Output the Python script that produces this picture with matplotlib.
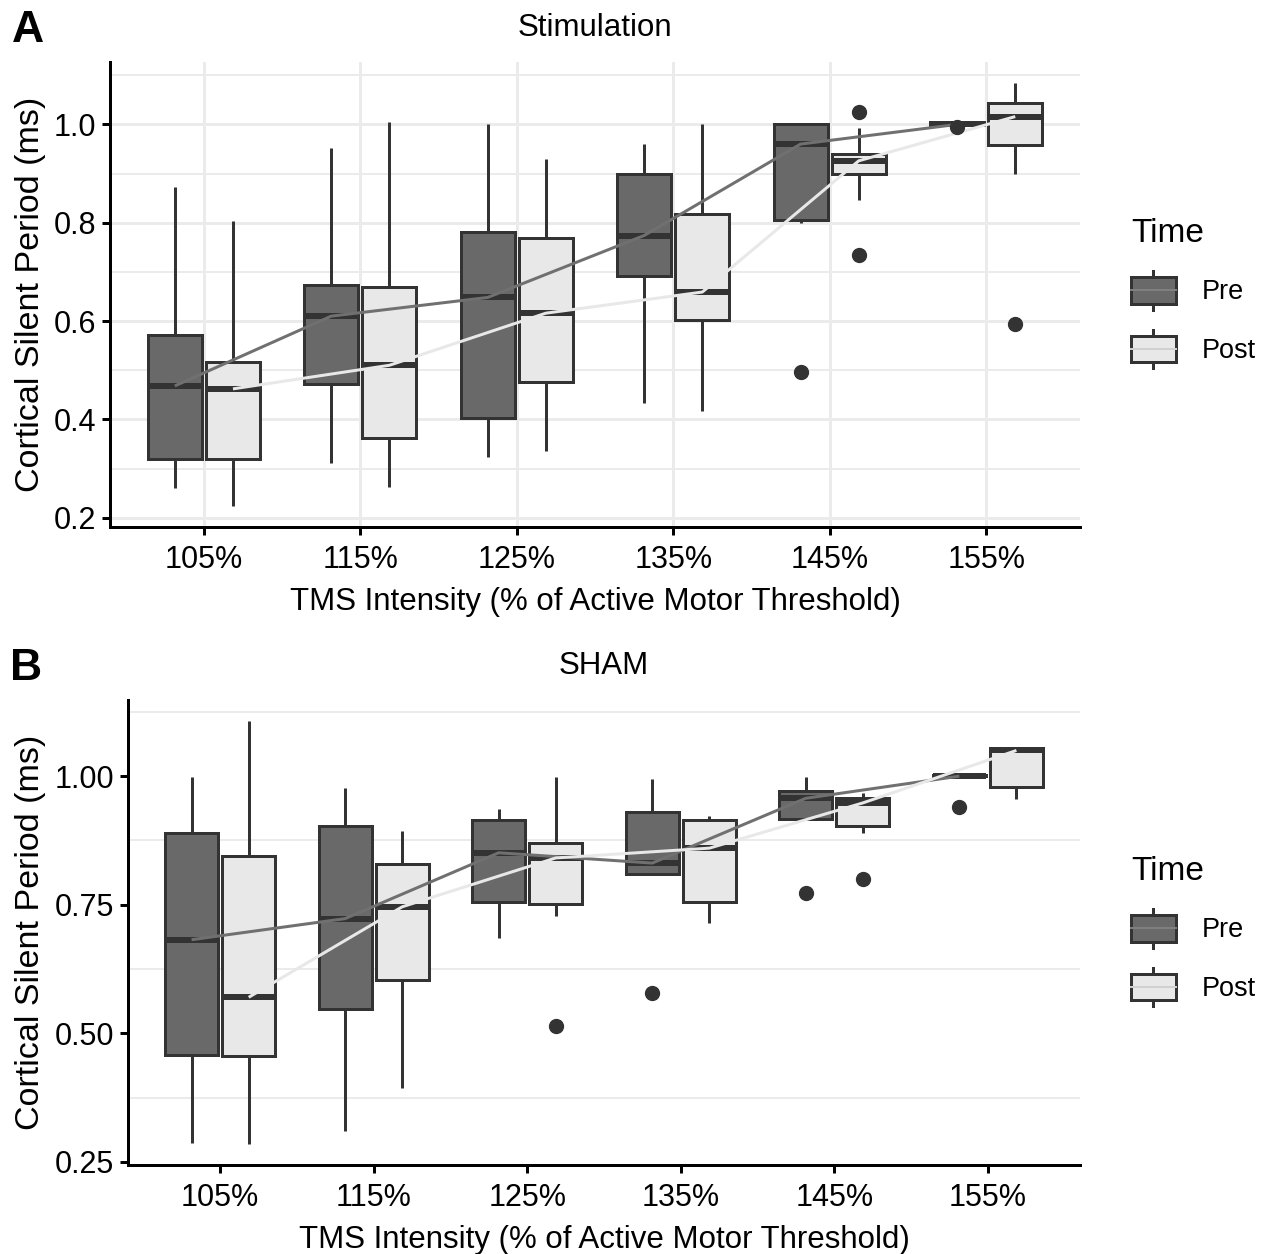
import matplotlib
matplotlib.use("Agg")
import matplotlib.pyplot as plt
import numpy as np
from matplotlib.ticker import MultipleLocator, FormatStrFormatter
from matplotlib.legend_handler import HandlerBase
from matplotlib.patches import Rectangle, Patch
from matplotlib.lines import Line2D

plt.rcParams['font.family'] = ['Liberation Sans', 'DejaVu Sans']

# ---------------- data ----------------
categories = ["105%", "115%", "125%", "135%", "145%", "155%"]
groups = ["Pre", "Post"]

# Panel A: Stimulation
stim_pre_whislo = [0.261, 0.312, 0.324, 0.433, 0.800, 0.998]
stim_pre_q1     = [0.320, 0.472, 0.403, 0.691, 0.806, 0.998]
stim_pre_med    = [0.468, 0.610, 0.648, 0.774, 0.960, 1.000]
stim_pre_q3     = [0.571, 0.673, 0.782, 0.900, 1.000, 1.005]
stim_pre_whishi = [0.873, 0.953, 1.000, 0.961, 1.000, 1.005]
stim_pre_fliers = [[], [], [], [], [0.496], [0.995]]

stim_post_whislo = [0.224, 0.263, 0.336, 0.417, 0.847, 0.900]
stim_post_q1     = [0.320, 0.362, 0.476, 0.602, 0.900, 0.958]
stim_post_med    = [0.462, 0.510, 0.616, 0.659, 0.926, 1.016]
stim_post_q3     = [0.516, 0.669, 0.768, 0.817, 0.940, 1.044]
stim_post_whishi = [0.804, 1.005, 0.930, 1.000, 0.993, 1.084]
stim_post_fliers = [[], [], [], [], [1.025, 0.735], [0.594]]

# Panel B: SHAM
sham_pre_whislo = [0.287, 0.310, 0.686, 0.810, 0.917, 1.000]
sham_pre_q1     = [0.457, 0.547, 0.756, 0.810, 0.917, 1.000]
sham_pre_med    = [0.682, 0.723, 0.851, 0.831, 0.957, 1.000]
sham_pre_q3     = [0.890, 0.903, 0.915, 0.930, 0.971, 1.003]
sham_pre_whishi = [0.998, 0.977, 0.936, 0.994, 0.998, 1.003]
sham_pre_fliers = [[], [], [], [0.578], [0.773], [0.940]]

sham_post_whislo = [0.285, 0.393, 0.729, 0.715, 0.890, 0.955]
sham_post_q1     = [0.456, 0.603, 0.752, 0.756, 0.903, 0.979]
sham_post_med    = [0.570, 0.746, 0.841, 0.860, 0.948, 1.050]
sham_post_q3     = [0.845, 0.829, 0.870, 0.915, 0.957, 1.054]
sham_post_whishi = [1.107, 0.893, 0.998, 0.922, 0.967, 1.054]
sham_post_fliers = [[], [], [0.514], [], [0.800], []]

# ---------------- style ----------------
W, H = 1271, 1254
PRE_FILL, POST_FILL = "#696969", "#e8e8e8"
PRE_LINE, POST_LINE = "#707070", "#e8e8e8"
EDGE = "#333333"
GRID = "#ebebeb"
DODGE = 0.186
BOXW = 0.345
PX = 0.72  # points per pixel at dpi 100

fig = plt.figure(figsize=(W / 100, H / 100), dpi=100)


def make_stats(whislo, q1, med, q3, whishi, fliers):
    return [dict(whislo=a, q1=b, med=c, q3=d, whishi=e, fliers=f)
            for a, b, c, d, e, f in zip(whislo, q1, med, q3, whishi, fliers)]


def draw_panel(ax, pre, post, title, minor_step, major_step, fmt, show_major_grid):
    x = np.arange(len(categories))
    for stats, off, fill, lcol in [(pre, -DODGE, PRE_FILL, PRE_LINE),
                                   (post, DODGE, POST_FILL, POST_LINE)]:
        ax.bxp(make_stats(*stats), positions=x + off, widths=BOXW,
               patch_artist=True, showcaps=False,
               boxprops=dict(facecolor=fill, edgecolor=EDGE, linewidth=3 * PX),
               whiskerprops=dict(color=EDGE, linewidth=3 * PX, solid_capstyle='butt'),
               medianprops=dict(color=EDGE, linewidth=6 * PX, solid_capstyle='butt'),
               flierprops=dict(marker='o', markerfacecolor=EDGE, markeredgecolor=EDGE,
                               markersize=10, zorder=4),
               manage_ticks=False, zorder=2)
        ax.plot(x + off, stats[2], color=lcol, linewidth=3 * PX, zorder=3,
                solid_capstyle='butt')
    allv = []
    for s in (pre, post):
        allv += list(s[0]) + list(s[4]) + [v for fl in s[5] for v in fl]
    lo, hi = min(allv), max(allv)
    pad = 0.05 * (hi - lo)
    ax.set_ylim(lo - pad, hi + pad)
    ax.set_xlim(-0.6, len(categories) - 1 + 0.6)
    ax.set_xticks(x)
    ax.set_xticklabels(categories)
    ax.yaxis.set_major_locator(MultipleLocator(major_step))
    ax.yaxis.set_minor_locator(MultipleLocator(minor_step))
    ax.yaxis.set_major_formatter(FormatStrFormatter(fmt))
    ax.set_axisbelow(True)
    if show_major_grid:
        ax.grid(True, which='major', axis='both', color=GRID, linewidth=3 * PX)
    ax.grid(True, which='minor', axis='y', color=GRID, linewidth=2 * PX)
    for sp in ['top', 'right']:
        ax.spines[sp].set_visible(False)
    for sp in ['left', 'bottom']:
        ax.spines[sp].set_linewidth(3 * PX)
        ax.spines[sp].set_color('black')
    ax.tick_params(which='major', length=8 * PX, width=3 * PX, color='black',
                   labelsize=22, labelcolor='black')
    ax.tick_params(axis='x', which='major', pad=7.5)
    ax.tick_params(axis='y', which='major', pad=4)
    ax.tick_params(which='minor', length=0)
    ax.set_xlabel("TMS Intensity (% of Active Motor Threshold)", fontsize=22.5, labelpad=8)
    ax.set_ylabel("Cortical Silent Period (ms)", fontsize=24.5)
    ax.set_title(title, fontsize=22.5, pad=18.5)


axA = fig.add_axes([110 / W, 1 - 527 / H, 970 / W, 465 / H])
axB = fig.add_axes([128 / W, 1 - 1165 / H, 952 / W, 465 / H])

draw_panel(axA,
           (stim_pre_whislo, stim_pre_q1, stim_pre_med, stim_pre_q3, stim_pre_whishi, stim_pre_fliers),
           (stim_post_whislo, stim_post_q1, stim_post_med, stim_post_q3, stim_post_whishi, stim_post_fliers),
           "Stimulation", 0.1, 0.2, '%.1f', True)
draw_panel(axB,
           (sham_pre_whislo, sham_pre_q1, sham_pre_med, sham_pre_q3, sham_pre_whishi, sham_pre_fliers),
           (sham_post_whislo, sham_post_q1, sham_post_med, sham_post_q3, sham_post_whishi, sham_post_fliers),
           "SHAM", 0.125, 0.25, '%.2f', False)

axA.yaxis.set_label_coords((46 - 110) / 970, 0.5)
axB.yaxis.set_label_coords((46 - 128) / 952, 0.5)

fig.text(12 / W, 1 - 30 / H, "A", fontsize=32, fontweight='bold', va='center', ha='left')
fig.text(10 / W, 1 - 669 / H, "B", fontsize=32, fontweight='bold', va='center', ha='left')


class BoxKey(HandlerBase):
    def __init__(self, fill, line):
        super().__init__()
        self.fill = fill
        self.line = line

    def create_artists(self, legend, orig_handle, xdescent, ydescent, width, height,
                       fontsize, trans):
        x0, y0 = -xdescent, -ydescent
        cx = x0 + width / 2
        wh = Line2D([cx, cx], [y0, y0 + height], color=EDGE, lw=3 * PX, transform=trans)
        rect = Rectangle((x0, y0 + 0.15 * height), width, 0.70 * height,
                         facecolor=self.fill, edgecolor=EDGE, lw=3 * PX, transform=trans)
        med = Line2D([x0, x0 + width], [y0 + height / 2] * 2, color=self.line,
                     lw=2 * PX, transform=trans)
        return [wh, rect, med]


for ax_top in (62, 700):
    h_pre = Patch(facecolor=PRE_FILL)
    h_post = Patch(facecolor=POST_FILL)
    leg = fig.legend(handles=[h_pre, h_post], labels=groups,
                     handler_map={h_pre: BoxKey(PRE_FILL, "#7f7f7f"),
                                  h_post: BoxKey(POST_FILL, "#d0d0d0")},
                     title="Time", loc='upper left',
                     bbox_to_anchor=(1131 / W, 1 - (ax_top + 156) / H),
                     frameon=False, fontsize=19.5, title_fontsize=24,
                     handlelength=1.65, handleheight=1.8, labelspacing=0.75,
                     handletextpad=0.95, borderpad=0, borderaxespad=0)
    leg._legend_box.align = 'left'
    leg._legend_box.sep = 16

fig.savefig("out.png", dpi=100)
